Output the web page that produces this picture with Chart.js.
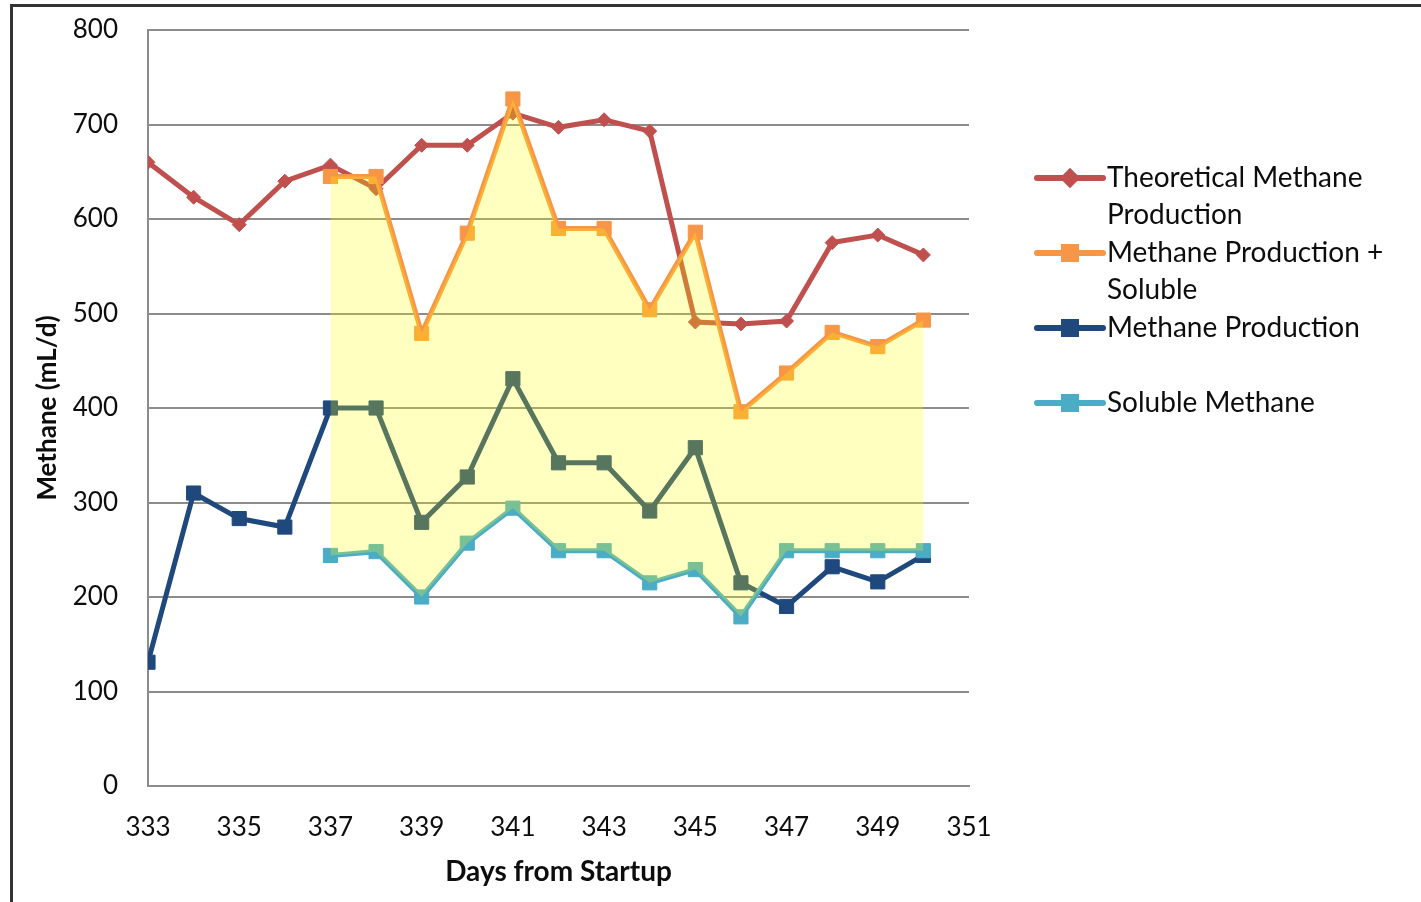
<!DOCTYPE html>
<html>
<head>
<meta charset="utf-8">
<script src="https://cdn.jsdelivr.net/npm/chart.js@4.4.1/dist/chart.umd.min.js"></script>
<style>
  html, body { margin: 0; padding: 0; background: #fff; }
  #wrap { width: 1421px; height: 902px; position: relative; }
</style>
</head>
<body>
<div id="wrap"><canvas id="chart" width="1421" height="902"></canvas></div>
<script>
// Days from startup
const daysAll = [333, 334, 335, 336, 337, 338, 339, 340, 341, 342, 343, 344, 345, 346, 347, 348, 349, 350];
const daysSoluble = [337, 338, 339, 340, 341, 342, 343, 344, 345, 346, 347, 348, 349, 350];

// Methane, mL/d
const theoreticalMethane = [660, 623, 594, 640, 657, 632, 678, 678, 712, 697, 705, 693, 491, 489, 492, 575, 583, 562];
const methaneProduction = [131, 310, 283, 274, 400, 400, 279, 327, 431, 342, 342, 291, 358, 215, 190, 232, 216, 244];
const methanePlusSoluble = [645, 645, 479, 585, 727, 590, 590, 504, 586, 396, 437, 480, 465, 493];
const solubleMethane = [244, 248, 200, 257, 294, 249, 249, 215, 229, 179, 249, 249, 249, 249];

// Series names and their legend line breaks
const seriesNames = ['Theoretical Methane Production', 'Methane Production + Soluble', 'Methane Production', 'Soluble Methane'];
const legendLines = [['Theoretical Methane', 'Production'], ['Methane Production +', 'Soluble'], ['Methane Production'], ['Soluble Methane']];

// Axis settings
const xMin = 333, xMax = 351, xStep = 2;
const yMin = 0, yMax = 800, yStep = 100;
const xTitle = 'Days from Startup';
const yTitle = 'Methane (mL/d)';

const colors = {
  red: '#C0504D',
  orange: '#F79646',
  navy: '#1F497D',
  aqua: '#4BACC6',
  band: 'rgba(255, 255, 0, 0.25)',
  grid: '#8c8c8c',
  text: '#0d0d0d'
};
const FONT = 'Lato, "Open Sans", sans-serif';

const pts = (xs, ys) => xs.map((x, i) => ({ x: x, y: ys[i] }));

const markerStyles = [
  { color: colors.red, style: 'rectRot', r: 7 },
  { color: colors.orange, style: 'rect', r: 10 },
  { color: colors.navy, style: 'rect', r: 10 },
  { color: colors.aqua, style: 'rect', r: 10 }
];
const seriesData = [
  pts(daysAll, theoreticalMethane),
  pts(daysSoluble, methanePlusSoluble),
  pts(daysAll, methaneProduction),
  pts(daysSoluble, solubleMethane)
];

// lower "order" values are painted later (on top); the band sits above every line
const datasets = seriesNames.map((name, i) => ({
  label: name,
  data: seriesData[i],
  borderColor: markerStyles[i].color,
  backgroundColor: markerStyles[i].color,
  borderWidth: 5,
  pointStyle: markerStyles[i].style,
  pointRadius: markerStyles[i].r,
  pointHoverRadius: markerStyles[i].r,
  pointBorderWidth: 1,
  pointBackgroundColor: markerStyles[i].color,
  pointBorderColor: markerStyles[i].color,
  tension: 0,
  fill: false,
  order: 4 - i
}));

// shaded band between "Methane Production + Soluble" and "Soluble Methane"
datasets.push({
  label: 'band',
  data: pts(daysSoluble, methanePlusSoluble),
  borderColor: 'transparent',
  borderWidth: 0,
  pointRadius: 0,
  pointHoverRadius: 0,
  backgroundColor: colors.band,
  fill: { target: 3 },
  tension: 0,
  order: 0
});

const frame = {
  id: 'frame',
  afterDraw(chart) {
    const ctx = chart.ctx;
    ctx.save();
    ctx.strokeStyle = '#333';
    ctx.lineWidth = 3;
    ctx.strokeRect(11.5, 5.5, 1500, 1000);
    ctx.restore();
  }
};

const sideLegend = {
  id: 'sideLegend',
  afterDraw(chart) {
    const ctx = chart.ctx;
    const x0 = 1037, x1 = 1103, tx = 1107, y0 = 178, entryGap = 75, lineGap = 37;
    ctx.save();
    ctx.font = '28px ' + FONT;
    ctx.textBaseline = 'middle';
    ctx.textAlign = 'left';
    legendLines.forEach((lines, i) => {
      const y = y0 + i * entryGap;
      const m = markerStyles[i];
      ctx.strokeStyle = m.color;
      ctx.lineWidth = 6;
      ctx.lineCap = 'round';
      ctx.beginPath();
      ctx.moveTo(x0, y);
      ctx.lineTo(x1, y);
      ctx.stroke();
      Chart.helpers.drawPoint(ctx, {
        pointStyle: m.style, rotation: 0, borderWidth: 1,
        radius: m.style === 'rectRot' ? 6 : 8.5
      }, (x0 + x1) / 2, y);
      ctx.fillStyle = m.color;
      ctx.fill();
      ctx.fillStyle = colors.text;
      lines.forEach((t, k) => ctx.fillText(t, tx, y + k * lineGap));
    });
    ctx.restore();
  }
};

new Chart(document.getElementById('chart'), {
  type: 'line',
  data: { datasets: datasets },
  options: {
    responsive: false,
    animation: false,
    events: [],
    layout: { padding: { left: 20, top: 30, right: 452, bottom: 6 } },
    plugins: {
      legend: { display: false },
      tooltip: { enabled: false }
    },
    scales: {
      x: {
        type: 'linear',
        min: xMin,
        max: xMax,
        afterFit(scale) { scale.height = 902 - 786 - 6; },
        ticks: {
          stepSize: xStep,
          padding: 26,
          color: colors.text,
          font: { family: FONT, size: 26 },
          maxRotation: 0
        },
        grid: { display: false, drawTicks: false },
        border: { display: true, color: colors.grid, width: 2 },
        title: {
          display: true,
          text: xTitle,
          color: colors.text,
          font: { family: FONT, size: 28, weight: 'bold' },
          padding: { top: 0, bottom: 7 }
        }
      },
      y: {
        min: yMin,
        max: yMax,
        afterFit(scale) {
          scale.width = 148 - 20;
          // tick labels may overhang the plot edges; the outer padding already leaves room
          scale.paddingTop = 0;
          scale.paddingBottom = 0;
        },
        ticks: {
          stepSize: yStep,
          padding: 30,
          color: colors.text,
          font: { family: FONT, size: 26 }
        },
        grid: { color: colors.grid, lineWidth: 2, drawTicks: false },
        border: { display: true, color: colors.grid, width: 2 },
        title: {
          display: true,
          text: yTitle,
          color: colors.text,
          font: { family: FONT, size: 26, weight: 'bold' },
          padding: { top: 12, bottom: 0 }
        }
      }
    }
  },
  plugins: [frame, sideLegend]
});
</script>
</body>
</html>
